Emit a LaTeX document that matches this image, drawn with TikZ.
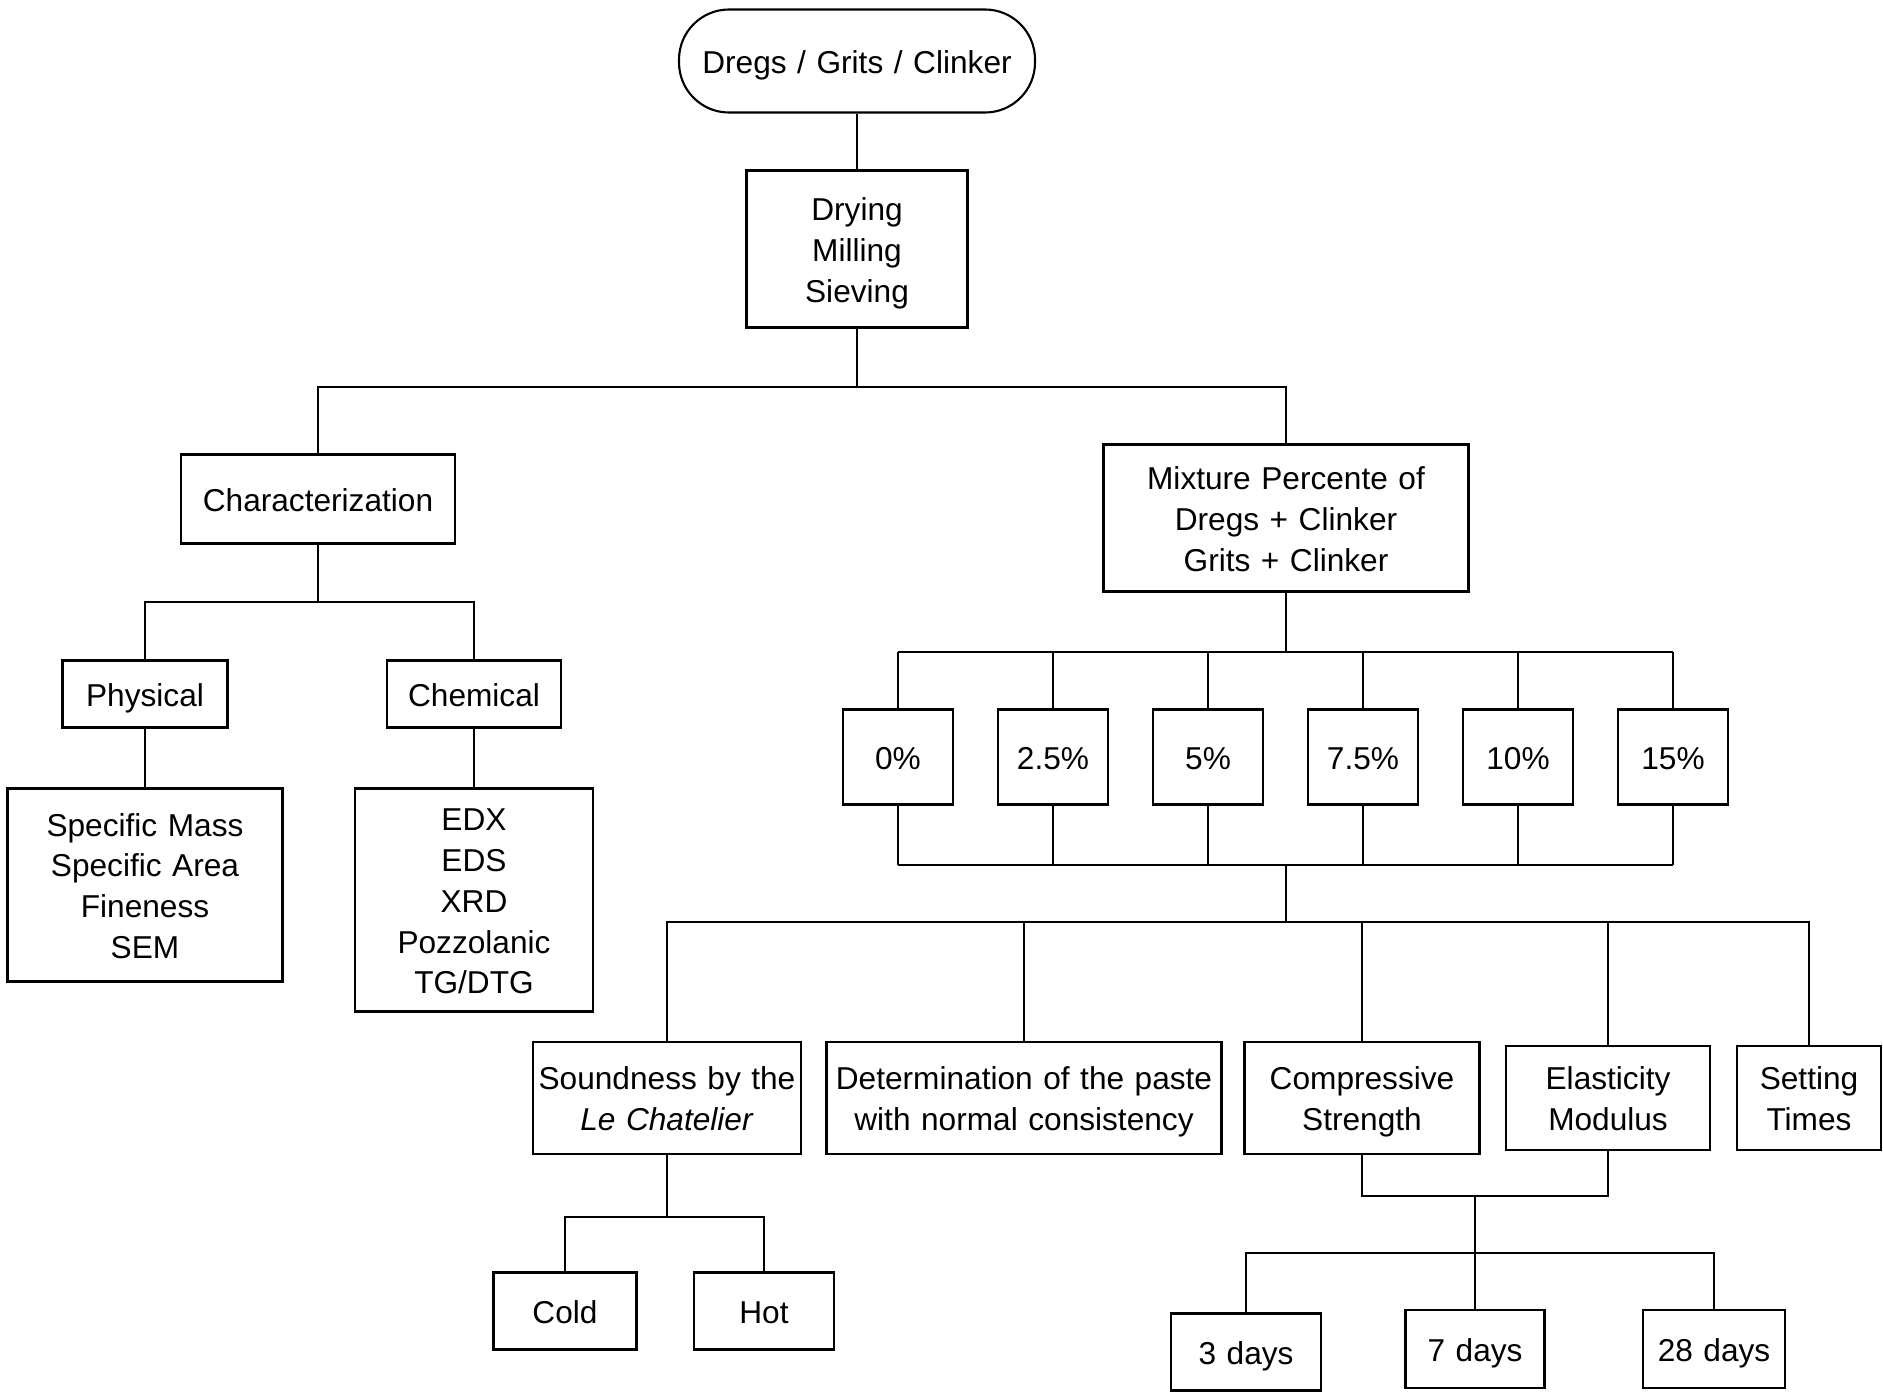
\documentclass[tikz,border=0pt]{standalone}
\usepackage{fontspec}
\setmainfont{Liberation Sans}
\usetikzlibrary{shapes}

\begin{document}
\begin{tikzpicture}[
  line width=0.6pt,
  font=\fontsize{9pt}{11.6pt}\selectfont,
  box/.style={draw, rectangle, align=center, inner sep=0pt,
    execute at begin node={\rule{0pt}{9pt}},
    execute at end node={\rule[-2pt]{0pt}{2pt}}}
]
  \useasboundingbox (0,0) rectangle (18.83,-13.97);

  \node[box, rounded corners=0.5cm, text width=3.56cm, minimum height=1.03cm] (source) at (8.57,-0.61) {Dregs / Grits / Clinker};
  \node[box, text width=2.21cm, minimum height=1.57cm] (prep) at (8.57,-2.49) {Drying\\Milling\\Sieving};

  \node[box, text width=2.74cm, minimum height=0.89cm] (charact) at (3.18,-4.99) {Characterization};
  \node[box, text width=3.65cm, minimum height=1.47cm] (mixture) at (12.86,-5.18) {Mixture Percente of\\Dregs + Clinker\\Grits + Clinker};

  \node[box, text width=1.65cm, minimum height=0.67cm] (physical) at (1.45,-6.94) {Physical};
  \node[box, text width=1.74cm, minimum height=0.67cm] (chemical) at (4.74,-6.94) {Chemical};
  \node[box, text width=2.75cm, minimum height=1.93cm] (physTests) at (1.45,-8.85) {Specific Mass\\Specific Area\\Fineness\\SEM};
  \node[box, text width=2.38cm, minimum height=2.23cm] (chemTests) at (4.74,-9.00) {EDX\\EDS\\XRD\\Pozzolanic\\TG/DTG};

  \foreach \p [count=\i] in {0, 2.5, 5, 7.5, 10, 15}
    \node[box, text width=1.10cm, minimum height=0.95cm] (pct\i) at ({8.98+1.55*(\i-1)},-7.57) {\p\%};

  \node[box, text width=2.68cm, minimum height=1.12cm] (soundness) at (6.67,-10.98) {Soundness by the\\\textit{Le Chatelier}};
  \node[box, text width=3.95cm, minimum height=1.12cm] (consistency) at (10.24,-10.98) {Determination of the paste\\with normal consistency};
  \node[box, text width=2.35cm, minimum height=1.12cm] (compressive) at (13.62,-10.98) {Compressive\\Strength};
  \node[box, text width=2.04cm, minimum height=1.04cm] (elasticity) at (16.08,-10.98) {Elasticity\\Modulus};
  \node[box, text width=1.44cm, minimum height=1.04cm] (setting) at (18.09,-10.98) {Setting\\Times};

  \node[box, text width=1.43cm, minimum height=0.77cm] (cold) at (5.65,-13.11) {Cold};
  \node[box, text width=1.40cm, minimum height=0.77cm] (hot) at (7.64,-13.11) {Hot};

  \node[box, text width=1.50cm, minimum height=0.77cm] (days3) at (12.46,-13.52) {3 days};
  \node[box, text width=1.39cm, minimum height=0.78cm] (days7) at (14.75,-13.49) {7 days};
  \node[box, text width=1.42cm, minimum height=0.78cm] (days28) at (17.14,-13.49) {28 days};

  \coordinate (split1) at (8.57,-3.87);
  \coordinate (split2) at (3.18,-6.02);
  \coordinate (split3) at (12.86,-6.52);
  \coordinate (join3) at (12.86,-8.65);
  \coordinate (split4) at (12.86,-9.22);
  \coordinate (split5) at (6.67,-12.17);
  \coordinate (join6) at (14.75,-11.96);
  \coordinate (split6) at (14.75,-12.53);

  \draw (source) -- (prep);
  \draw (prep) -- (split1);
  \draw (charact) |- (split1) -| (mixture);

  \draw (charact) -- (split2);
  \draw (physical) |- (split2) -| (chemical);
  \draw (physical) -- (physTests);
  \draw (chemical) -- (chemTests);

  \draw (mixture) -- (split3);
  \draw (pct1 |- split3) -- (pct6 |- split3);
  \draw (pct1 |- join3) -- (pct6 |- join3);
  \foreach \i in {1,...,6}
    \draw (pct\i |- split3) -- (pct\i) -- (pct\i |- join3);

  \draw (join3) -- (split4);
  \draw (soundness) |- (split4) -| (setting);
  \foreach \n in {consistency, compressive, elasticity}
    \draw (\n) -- (\n |- split4);

  \draw (soundness) -- (split5);
  \draw (cold) |- (split5) -| (hot);

  \draw (compressive) |- (join6) -| (elasticity);
  \draw (join6) -- (days7);
  \draw (days3) |- (split6) -| (days28);

\end{tikzpicture}
\end{document}
